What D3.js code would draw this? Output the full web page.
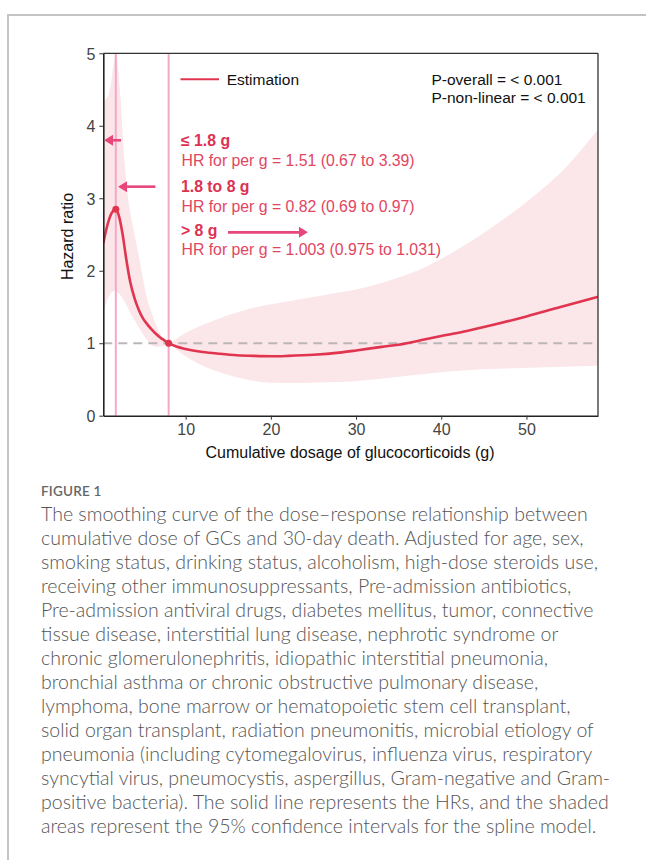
<!DOCTYPE html>
<html><head><meta charset="utf-8">
<script src="https://cdn.jsdelivr.net/npm/d3@7"></script>
<style>html,body{margin:0;padding:0;background:#fff;}svg{display:block;}</style>
</head><body>
<svg id="c" width="646" height="860"></svg>
<script>
// ---- data ----
const estX = [0.33,0.7,1.1,1.5,1.8,2.2,2.6,3.0,3.5,4.0,4.5,5.0,5.5,6.0,6.5,7.0,7.5,8.0,9,10,12,14,16,18,20,22,25,28,30,33,35,38,40,43,46,50,54,58.4];
const estY = [2.38,2.58,2.74,2.83,2.85,2.74,2.5,2.18,1.84,1.62,1.46,1.34,1.26,1.19,1.13,1.08,1.04,1.0,0.95,0.92,0.88,0.855,0.835,0.825,0.82,0.825,0.84,0.87,0.9,0.95,0.98,1.05,1.1,1.17,1.25,1.37,1.5,1.64];
const upX = [0.33,0.7,1.0,1.3,1.6,1.8,2.1,2.4,2.7,3.0,3.5,4.0,4.5,5.0,5.5,6.0,6.5,7.0,7.5,8.0,9,10,12,14.8,18,22.6,26,30.4,34,38.3,42,46.1,50,53.9,58.4];
const upY = [4.35,4.38,4.45,4.65,4.9,5.05,4.75,4.3,3.7,3.25,2.8,2.5,2.2,1.88,1.6,1.42,1.26,1.13,1.05,1.0,1.07,1.14,1.25,1.38,1.49,1.59,1.66,1.75,1.87,2.06,2.3,2.61,2.95,3.34,3.95];
const loX = [0.33,1.0,1.6,2.2,2.8,3.5,4.25,5.0,5.5,6.0,6.5,7.0,7.5,8.0,9,10,12,14,16,18,20,23,26,29,32,36,40,45,50,54,58.4];
const loY = [1.43,1.65,1.72,1.68,1.58,1.42,1.27,1.12,1.04,0.98,0.95,0.95,0.97,1.0,0.9,0.82,0.69,0.6,0.53,0.48,0.455,0.45,0.46,0.47,0.5,0.55,0.6,0.64,0.66,0.675,0.69];
const knots = [1.8, 8];
const knotHR = [2.85, 1.0];
const xTicks = [10,20,30,40,50];
const yTicks = [0,1,2,3,4,5];
const legendLabel = "Estimation";
const pLines = ["P-overall = < 0.001", "P-non-linear = < 0.001"];
const annoBold = ["≤ 1.8 g", "1.8 to 8 g", "> 8 g"];
const annoHR = ["HR for per g = 1.51 (0.67 to 3.39)", "HR for per g = 0.82 (0.69 to 0.97)", "HR for per g = 1.003 (0.975 to 1.031)"];
// arrows in data units: [x1, x2, y]
const arrows = [[2.41,0.42,3.80],[6.45,2.06,3.16],[14.97,24.35,2.53]];
const figLabel = "FIGURE 1";
const caption = [
"The smoothing curve of the dose–response relationship between",
"cumulative dose of GCs and 30-day death. Adjusted for age, sex,",
"smoking status, drinking status, alcoholism, high-dose steroids use,",
"receiving other immunosuppressants, Pre-admission antibiotics,",
"Pre-admission antiviral drugs, diabetes mellitus, tumor, connective",
"tissue disease, interstitial lung disease, nephrotic syndrome or",
"chronic glomerulonephritis, idiopathic interstitial pneumonia,",
"bronchial asthma or chronic obstructive pulmonary disease,",
"lymphoma, bone marrow or hematopoietic stem cell transplant,",
"solid organ transplant, radiation pneumonitis, microbial etiology of",
"pneumonia (including cytomegalovirus, influenza virus, respiratory",
"syncytial virus, pneumocystis, aspergillus, Gram-negative and Gram-",
"positive bacteria). The solid line represents the HRs, and the shaded",
"areas represent the 95% confidence intervals for the spline model."
];

// ---- layout ----
const svg = d3.select("#c");
svg.append("rect").attr("width",646).attr("height",860).attr("fill","#fff");
svg.append("rect").attr("x",8).attr("y",15).attr("width",700).attr("height",900)
  .attr("fill","none").attr("stroke","#c4c4c4").attr("stroke-width",2);

const L = 103.3, R = 598, T = 53.3, B = 415.7;
const x = d3.scaleLinear().domain([0.33, 58.4]).range([L, R]);
const y = d3.scaleLinear().domain([0, 5]).range([B, T]);
const F = "'Liberation Sans', Arial, sans-serif";

svg.append("clipPath").attr("id","clip").append("rect")
  .attr("x",L).attr("y",T).attr("width",R-L).attr("height",B-T);
const g = svg.append("g").attr("clip-path","url(#clip)");

// band: upper edge forward, lower edge sampled and reversed
const curveF = d3.curveMonotoneX;
const upPath = d3.line().x(d=>x(d[0])).y(d=>y(d[1])).curve(curveF)(upX.map((v,i)=>[v,upY[i]]));
const loPath = d3.line().x(d=>x(d[0])).y(d=>y(d[1])).curve(curveF)(loX.map((v,i)=>[v,loY[i]]));
const loSamp = [];
{
  const tmp = svg.append("path").attr("d", loPath).attr("fill","none");
  const n = tmp.node(), len = n.getTotalLength();
  for (let i = 0; i <= 500; i++) { const p = n.getPointAtLength(len * i / 500); loSamp.push([p.x, p.y]); }
  tmp.remove();
}
const bandD = upPath + "L" + loSamp.reverse().map(p=>p[0].toFixed(2)+","+p[1].toFixed(2)).join("L") + "Z";
g.append("path").attr("d", bandD).attr("fill","#fbe6ea").attr("stroke","none");

// vertical knot lines
g.selectAll("line.knot").data(knots).join("line")
  .attr("x1",d=>x(d)).attr("x2",d=>x(d)).attr("y1",T).attr("y2",B)
  .attr("stroke","#f5a8c8").attr("stroke-width",2);

// reference dashed line
g.append("line").attr("x1",L).attr("x2",R).attr("y1",y(1)).attr("y2",y(1))
  .attr("stroke","#bdb6b8").attr("stroke-width",2).attr("stroke-dasharray","9,6");

// estimate curve
g.append("path").datum(estX.map((v,i)=>[v,estY[i]]))
  .attr("d", d3.line().x(d=>x(d[0])).y(d=>y(d[1])).curve(d3.curveMonotoneX))
  .attr("fill","none").attr("stroke","#e0344f").attr("stroke-width",2.6);

// knot dots
g.selectAll("circle").data(knots).join("circle")
  .attr("cx",d=>x(d)).attr("cy",(d,i)=>y(knotHR[i])).attr("r",3.5).attr("fill","#e0344f");

// frame top/right
svg.append("line").attr("x1",L).attr("x2",R).attr("y1",T).attr("y2",T).attr("stroke","#333").attr("stroke-width",1.3);
svg.append("line").attr("x1",R).attr("x2",R).attr("y1",T).attr("y2",B).attr("stroke","#333").attr("stroke-width",1.3);

// axes
const xa = svg.append("g").attr("transform",`translate(0,${B})`)
  .call(d3.axisBottom(x).tickValues(xTicks).tickFormat(d3.format("d")).tickSize(4).tickPadding(4).tickSizeOuter(0));
const ya = svg.append("g").attr("transform",`translate(${L},0)`)
  .call(d3.axisLeft(y).tickValues(yTicks).tickFormat(d3.format("d")).tickSize(4).tickPadding(4).tickSizeOuter(0));
[xa,ya].forEach(a=>{
  a.attr("font-size",null).attr("font-family",null);
  a.select(".domain").attr("stroke","#222").attr("stroke-width",1.6);
  a.selectAll(".tick line").attr("stroke","#333");
  a.selectAll(".tick text").attr("font-family",F).attr("font-size",16).attr("fill","#444");
});
ya.selectAll(".tick text").attr("dy","0.36em");

svg.append("text").attr("x",350).attr("y",458).attr("text-anchor","middle")
  .attr("font-family",F).attr("font-size",16).attr("fill","#111").text("Cumulative dosage of glucocorticoids (g)");
svg.append("text").attr("transform",`translate(73,${(T+B)/2+2}) rotate(-90)`).attr("text-anchor","middle")
  .attr("font-family",F).attr("font-size",16).attr("fill","#111").text("Hazard ratio");

// legend
svg.append("line").attr("x1",180.5).attr("x2",219).attr("y1",79.3).attr("y2",79.3)
  .attr("stroke","#e0344f").attr("stroke-width",2);
svg.append("text").attr("x",226.7).attr("y",85).attr("font-family",F).attr("font-size",15.5)
  .attr("fill","#111").text(legendLabel);
svg.selectAll("text.p").data(pLines).join("text").attr("class","p")
  .attr("x",431.5).attr("y",(d,i)=>85+i*18.3).attr("font-family",F).attr("font-size",15.5)
  .attr("fill","#111").text(d=>d);

// annotations
const boldY = [146, 191.7, 236];
const hrY = [166.3, 211.7, 254.5];
svg.selectAll("text.ab").data(annoBold).join("text").attr("class","ab")
  .attr("x",181).attr("y",(d,i)=>boldY[i]).attr("font-family",F).attr("font-size",15.8)
  .attr("font-weight","bold").attr("fill","#dc3152").text(d=>d);
svg.selectAll("text.ah").data(annoHR).join("text").attr("class","ah")
  .attr("x",181.5).attr("y",(d,i)=>hrY[i]).attr("font-family",F).attr("font-size",15.8)
  .attr("fill","#e2455f").text(d=>d);

// arrows
arrows.forEach(a=>{
  const x1 = x(a[0]), x2 = x(a[1]), yy = y(a[2]);
  const dir = Math.sign(x2-x1), hl = 9, hw = 5.5;
  svg.append("line").attr("x1",x1).attr("x2",x2-dir*hl).attr("y1",yy).attr("y2",yy)
    .attr("stroke","#e8467a").attr("stroke-width",2.6);
  svg.append("path").attr("d",`M${x2},${yy}L${x2-dir*hl},${yy-hw}L${x2-dir*hl},${yy+hw}Z`).attr("fill","#e8467a");
});

// caption
svg.append("text").attr("x",41).attr("y",496).attr("font-family","Lato, 'Open Sans', sans-serif")
  .attr("font-size",13.5).attr("font-weight",600).attr("letter-spacing",0.2).attr("fill","#666").text(figLabel);
const cap = svg.append("g").selectAll("text").data(caption).join("text")
  .attr("x",41).attr("y",(d,i)=>521+i*24).attr("font-family","Lato, 'Open Sans', sans-serif")
  .attr("font-weight",300).attr("font-size",18).attr("fill","#555").text(d=>d);
const w0 = cap.nodes()[0].getComputedTextLength();
cap.attr("font-size", 18 * 547 / w0);
</script>
</body></html>
